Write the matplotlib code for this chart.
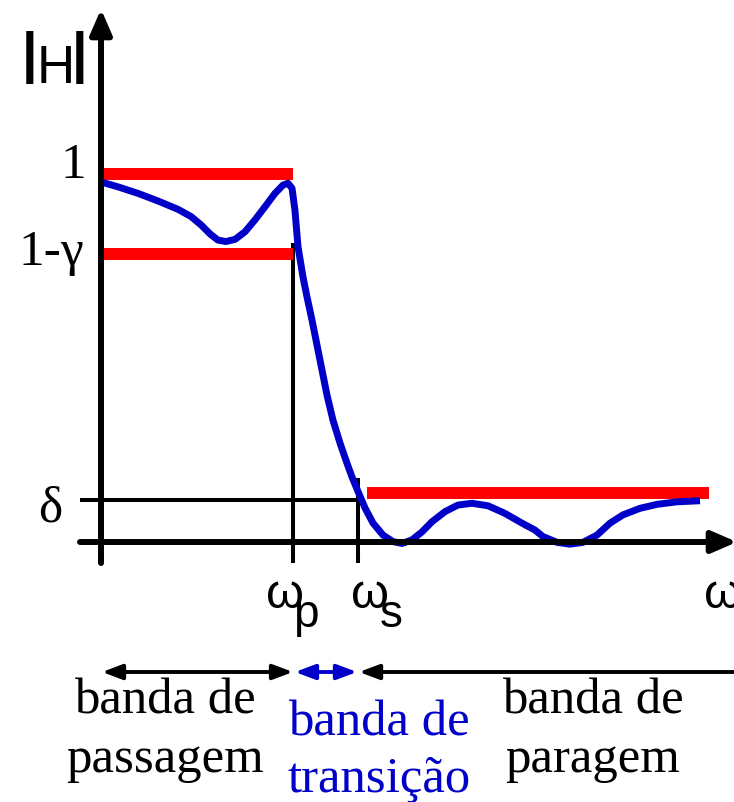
import numpy as np
import matplotlib.pyplot as plt

omega = [0.010, 0.089, 0.193, 0.297, 0.401, 0.469, 0.521, 0.568, 0.609, 0.651,
         0.698, 0.750, 0.802, 0.854, 0.906, 0.948, 0.974, 0.995, 1.010, 1.026,
         1.052, 1.073, 1.099, 1.125, 1.151, 1.177, 1.208, 1.245, 1.281, 1.307,
         1.339, 1.375, 1.417, 1.469, 1.521, 1.568, 1.620, 1.672, 1.724, 1.792,
         1.859, 1.932, 2.016, 2.104, 2.193, 2.260, 2.302, 2.375, 2.443, 2.510,
         2.583, 2.651, 2.719, 2.807, 2.896, 3.000, 3.120]
modulo_H = [0.993, 0.981, 0.963, 0.942, 0.919, 0.899, 0.876, 0.851, 0.834, 0.830,
            0.836, 0.857, 0.890, 0.926, 0.963, 0.986, 0.991, 0.977, 0.917, 0.816,
            0.732, 0.677, 0.613, 0.544, 0.475, 0.406, 0.337, 0.273, 0.218, 0.180,
            0.139, 0.094, 0.052, 0.019, 0.001, -0.004, 0.006, 0.028, 0.056, 0.084,
            0.102, 0.107, 0.100, 0.079, 0.052, 0.033, 0.015, -0.001, -0.006, -0.001,
            0.019, 0.052, 0.075, 0.093, 0.104, 0.111, 0.114]

# frequencias de corte e niveis das especificacoes
omega_p = 1.0
omega_s = 1.339
omega_fim_paragem = 3.167
nivel_1 = 1.017
nivel_1_gama = 0.796
nivel_delta = 0.116
nivel_paragem = 0.135

rotulos_y = ['1', '1-γ', 'δ']
textos_bandas = [('banda de', 'passagem'), ('banda de', 'transição'), ('banda de', 'paragem')]

AZUL = '#0000c8'
VERMELHO = '#ff0000'

# mapeamento de pixels do desenho original para unidades (so para o layout)
X0, SX = 101.0, 192.0
Y0, SY = 542.0, 362.0


def px(x, y):
    return ((x - X0) / SX, (Y0 - y) / SY)


fig = plt.figure(figsize=(7.34, 8.02), dpi=100)
ax = fig.add_axes([0, 0, 1, 1])
ax.set_xlim(px(0, 0)[0], px(734, 0)[0])
ax.set_ylim(px(0, 802)[1], px(0, 0)[1])
ax.axis('off')

base = px(0, 563)[1]

# eixos com setas
seta_eixo = dict(arrowstyle='-|>,head_length=1.5,head_width=0.65', mutation_scale=10,
                 lw=4.3, color='black', shrinkA=0, shrinkB=0)
ax.annotate('', xy=(0, px(0, 9)[1]), xytext=(0, base), arrowprops=seta_eixo,
            annotation_clip=False)
ax.annotate('', xy=(px(737, 0)[0], 0), xytext=(px(80, 0)[0], 0), arrowprops=seta_eixo,
            annotation_clip=False)

# linhas de referencia
ax.plot([px(80, 0)[0], omega_s], [nivel_delta, nivel_delta], color='black', lw=2.9, solid_capstyle='butt')
ax.plot([omega_p, omega_p], [base, px(0, 243)[1]], color='black', lw=2.9, solid_capstyle='butt')
ax.plot([omega_s, omega_s], [base, px(0, 478)[1]], color='black', lw=2.9, solid_capstyle='butt')

# especificacoes (barras vermelhas)
ax.plot([0, omega_p], [nivel_1, nivel_1], color=VERMELHO, lw=8.6, solid_capstyle='butt')
ax.plot([0, omega_p], [nivel_1_gama, nivel_1_gama], color=VERMELHO, lw=8.6, solid_capstyle='butt')
ax.plot([px(367, 0)[0], omega_fim_paragem], [nivel_paragem, nivel_paragem],
        color=VERMELHO, lw=8.6, solid_capstyle='butt')

# resposta do filtro
ax.plot(omega, modulo_H, color=AZUL, lw=5.0, solid_joinstyle='round', solid_capstyle='butt')

# rotulo |H|
sans = 'Liberation Sans'
serif = 'Liberation Serif'
ax.text(*px(30, 71), '|', fontsize=40, family=sans, fontweight='bold', ha='center', va='baseline')
ax.text(*px(56, 83), 'H', fontsize=38, family=sans, ha='center', va='baseline')
ax.text(*px(80, 71), '|', fontsize=40, family=sans, fontweight='bold', ha='center', va='baseline')

# rotulos do eixo vertical
ax.text(*px(86, 178), rotulos_y[0], fontsize=37, family=serif, ha='right', va='baseline')
ax.text(*px(84, 265), rotulos_y[1], fontsize=37, family=serif, ha='right', va='baseline')
ax.text(*px(50, 522), rotulos_y[2], fontsize=37, family=serif, ha='center', va='baseline')

# rotulos do eixo horizontal
ax.text(*px(285, 608), 'ω', fontsize=35, family=sans, ha='center', va='baseline')
ax.text(*px(306, 627), 'p', fontsize=33, family=sans, ha='center', va='baseline')
ax.text(*px(370, 608), 'ω', fontsize=35, family=sans, ha='center', va='baseline')
ax.text(*px(391, 627), 's', fontsize=33, family=sans, ha='center', va='baseline')
ax.text(*px(704, 608), 'ω', fontsize=35, family=sans, ha='left', va='baseline')

# setas das bandas
y_seta = px(0, 672)[1]
estilo = '<|-|>,head_length=1.2,head_width=0.45'
ax.annotate('', xy=(px(102, 0)[0], y_seta), xytext=(omega_p, y_seta),
            arrowprops=dict(arrowstyle=estilo, mutation_scale=10, lw=2.8, color='black',
                            shrinkA=0, shrinkB=0))
ax.annotate('', xy=(px(295, 0)[0], y_seta), xytext=(px(357, 0)[0], y_seta),
            arrowprops=dict(arrowstyle=estilo, mutation_scale=10, lw=2.8, color=AZUL,
                            shrinkA=0, shrinkB=0))
ax.annotate('', xy=(omega_s + 0.005, y_seta), xytext=(px(760, 0)[0], y_seta),
            arrowprops=dict(arrowstyle='-|>,head_length=1.2,head_width=0.45', mutation_scale=10,
                            lw=2.8, color='black', shrinkA=0, shrinkB=0),
            annotation_clip=False)

# textos das bandas
centros = [165, 379, 593]
linhas = [(713, 772), (735, 792), (713, 772)]
cores = ['black', AZUL, 'black']
for (l1, l2), cx, (b1, b2), cor in zip(textos_bandas, centros, linhas, cores):
    ax.text(*px(cx, b1), l1, fontsize=36.5, family=serif, color=cor, ha='center', va='baseline')
    ax.text(*px(cx, b2), l2, fontsize=36.5, family=serif, color=cor, ha='center', va='baseline')

fig.savefig('out.png', dpi=100)
